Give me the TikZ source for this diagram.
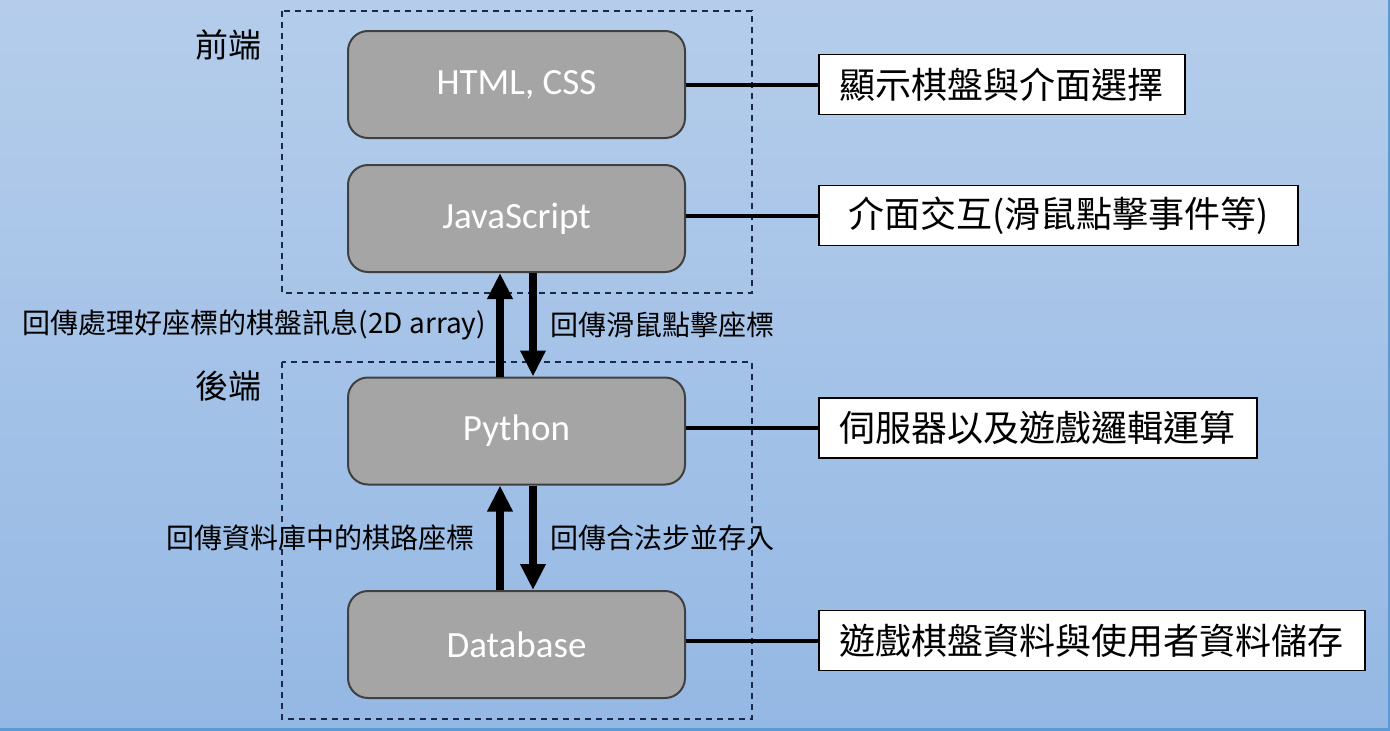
\documentclass[tikz,border=0pt]{standalone}
\usepackage{fontspec}
\usepackage{tikz}
\usetikzlibrary{arrows.meta,positioning}
\newfontfamily\cjkfont{Noto Sans CJK TC}
\newfontfamily\boxfont{Carlito}
\definecolor{bgtop}{RGB}{181,205,235}
\definecolor{bgbot}{RGB}{148,184,228}
\definecolor{edgeblue}{RGB}{91,155,213}
\definecolor{layergray}{RGB}{165,165,165}
\definecolor{layerline}{RGB}{64,64,64}
\definecolor{dashnavy}{RGB}{25,40,75}
\tikzset{
  layer/.style={draw=layerline, fill=layergray, line width=2, rounded corners=20,
    minimum width=337, minimum height=107, text=white,
    font=\boxfont\fontsize{37}{40}\selectfont},
  note/.style={draw=black, fill=white, line width=1.8, anchor=west, minimum height=60,
    inner xsep=21, inner ysep=0, font=\cjkfont\fontsize{36}{40}\selectfont},
  tier/.style={font=\cjkfont\fontsize{33}{36}\selectfont},
  msg/.style={inner sep=0, font=\cjkfont\fontsize{28}{32}\selectfont},
  zone/.style={draw=dashnavy, line width=2, dash pattern=on 6 off 5},
  flow/.style={line width=8, -{Triangle[width=24,length=26]}},
  link/.style={line width=4}
}
\begin{document}
\begin{tikzpicture}[x=1pt,y=1pt,yscale=-1]
\useasboundingbox (0,0) rectangle (1390,731);
\shade[top color=bgtop, bottom color=bgbot] (0,0) rectangle (1390,731);
\draw[edgeblue, line width=3] (0,729.5) -- (1390,729.5);
\draw[edgeblue, line width=1.5] (1389,0) -- (1389,731);

% dashed zones
\draw[zone] (282,11) rectangle (752,293);
\draw[zone] (282,362) rectangle (752,719);
\node[tier] (front) at (228,45) {前端};
\node[tier] (back) at (228,386) {後端};

% layers
\node[layer] (html) at (516.5,84.5) {HTML, CSS};
\node[layer] (js) at (516.5,218.5) {JavaScript};
\node[layer] (py) at (516.5,431) {Python};
\node[layer] (db) at (516.5,644.5) {Database};

% notes
\node[note] (n1) at (818,84.5) {顯示棋盤與介面選擇};
\node[note, minimum width=479] (n2) at (818,215.5) {介面交互(滑鼠點擊事件等)};
\node[note] (n3) at (818,428) {伺服器以及遊戲邏輯運算};
\node[note] (n4) at (818,640.5) {遊戲棋盤資料與使用者資料儲存};
\draw[link] (n1.west -| html.east) -- (n1.west);
\draw[link] (n2.west -| js.east) -- (n2.west);
\draw[link] (n3.west -| py.east) -- (n3.west);
\draw[link] (n4.west -| db.east) -- (n4.west);

% data flow
\draw[flow] ([xshift=-16.5]py.north) -- ([xshift=-16.5]js.south)
  node[msg, midway, left=10] (m1) {回傳處理好座標的棋盤訊息(2D array)};
\draw[flow] ([xshift=16.5]js.south) -- ([xshift=16.5]py.north)
  node[msg, midway, right=13] (m2) {回傳滑鼠點擊座標};
\draw[flow] ([xshift=-16.5]db.north) -- ([xshift=-16.5]py.south)
  node[msg, midway, left=22] (m3) {回傳資料庫中的棋路座標};
\draw[flow] ([xshift=16.5]py.south) -- ([xshift=16.5]db.north)
  node[msg, midway, right=13] (m4) {回傳合法步並存入};
\end{tikzpicture}
\end{document}
